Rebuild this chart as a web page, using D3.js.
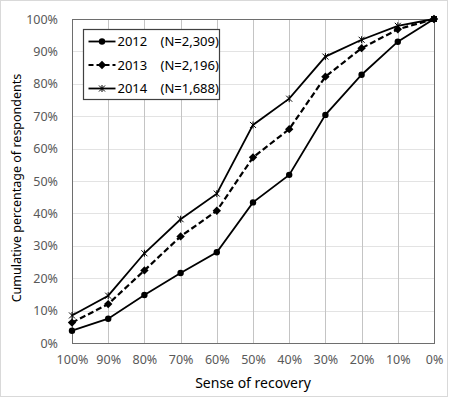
<!DOCTYPE html>
<html>
<head>
<meta charset="utf-8">
<script src="https://cdn.jsdelivr.net/npm/d3@7"></script>
<style>
  body { margin: 0; background: #fff; }
  text { font-family: "Noto Sans", "DejaVu Sans", sans-serif; }
</style>
</head>
<body>
<script>
// Data
const categories = ["100%", "90%", "80%", "70%", "60%", "50%", "40%", "30%", "20%", "10%", "0%"];
const years = ["2012", "2013", "2014"];
const sampleSizes = ["(N=2,309)", "(N=2,196)", "(N=1,688)"];
const values2012 = [3.8, 7.5, 14.8, 21.6, 28.0, 43.4, 51.9, 70.4, 82.8, 93.0, 100];
const values2013 = [6.3, 12.0, 22.4, 32.9, 40.8, 57.3, 66.0, 82.2, 91.0, 96.8, 100];
const values2014 = [8.5, 14.6, 27.7, 38.2, 46.1, 67.3, 75.4, 88.4, 93.6, 97.9, 100];
const yTicks = [0, 10, 20, 30, 40, 50, 60, 70, 80, 90, 100];

const series = [
  { name: years[0], n: sampleSizes[0], values: values2012, dash: null, marker: "circle" },
  { name: years[1], n: sampleSizes[1], values: values2013, dash: "6,3", marker: "diamond" },
  { name: years[2], n: sampleSizes[2], values: values2014, dash: null, marker: "x" }
];

// Dimensions
const W = 450, H = 397;
const margin = { top: 19, right: 16, bottom: 54, left: 72 };
const width = 434 - margin.left;
const height = 343 - margin.top;

const svg = d3.select("body").append("svg")
    .attr("width", W)
    .attr("height", H);

// outer frame
svg.append("rect")
    .attr("x", 0.5).attr("y", 0.5)
    .attr("width", W - 3).attr("height", H - 1)
    .attr("fill", "#fff")
    .attr("stroke", "#d9d9d9");

const g = svg.append("g")
    .attr("transform", `translate(${margin.left},${margin.top})`);

const x = d3.scalePoint().domain(categories).range([0, width]);
const y = d3.scaleLinear().domain([0, 100]).range([height, 0]);

// horizontal grid
g.append("g")
  .selectAll("line")
  .data(yTicks)
  .join("line")
    .attr("x1", 0).attr("x2", width)
    .attr("y1", d => Math.round(y(d)) + 0.5)
    .attr("y2", d => Math.round(y(d)) + 0.5)
    .attr("stroke", "#e3e3e3");

// vertical grid
g.append("g")
  .selectAll("line")
  .data(categories)
  .join("line")
    .attr("x1", d => Math.round(x(d)) + 0.5)
    .attr("x2", d => Math.round(x(d)) + 0.5)
    .attr("y1", 0).attr("y2", height)
    .attr("stroke", "#c4c4c4");

// plot border
g.append("rect")
    .attr("x", 0.5).attr("y", 0.5)
    .attr("width", width).attr("height", height)
    .attr("fill", "none")
    .attr("stroke", "#6e6e6e");

// axes
const yAxis = g.append("g")
    .call(d3.axisLeft(y).tickValues(yTicks).tickFormat(d => d + "%").tickSize(0).tickPadding(14));
yAxis.select(".domain").remove();
yAxis.selectAll("text").attr("font-size", 12.5).attr("fill", "#595959")
    .style("font-family", "'Noto Sans', sans-serif");

const xAxis = g.append("g")
    .attr("transform", `translate(0,${height})`)
    .call(d3.axisBottom(x).tickSize(0).tickPadding(12));
xAxis.select(".domain").remove();
xAxis.selectAll("text").attr("font-size", 12.5).attr("fill", "#595959")
    .style("font-family", "'Noto Sans', sans-serif");

// axis titles
svg.append("text")
    .attr("x", 253).attr("y", 388)
    .attr("text-anchor", "middle")
    .attr("font-size", 14)
    .attr("fill", "#000")
    .text("Sense of recovery");

svg.append("text")
    .attr("transform", "translate(21,188) rotate(-90)")
    .attr("text-anchor", "middle")
    .attr("font-size", 12.5)
    .attr("fill", "#000")
    .text("Cumulative percentage of respondents");

// markers
function drawMarker(sel, type) {
  if (type === "circle") {
    sel.append("circle").attr("r", 3.2).attr("fill", "#000");
  } else if (type === "diamond") {
    sel.append("path").attr("d", "M0,-4.2L4.2,0L0,4.2L-4.2,0Z").attr("fill", "#000");
  } else {
    sel.append("path").attr("d", "M-3,-3L3,3M-3,3L3,-3M0,-3.5L0,3.5")
      .attr("stroke", "#000").attr("stroke-width", 1).attr("fill", "none");
  }
}

const line = d3.line()
    .x((d, i) => x(categories[i]))
    .y(d => y(d));

series.forEach(s => {
  g.append("path")
    .datum(s.values)
    .attr("fill", "none")
    .attr("stroke", "#000")
    .attr("stroke-width", s.dash ? 2.2 : 1.8)
    .attr("stroke-dasharray", s.dash)
    .attr("d", line);

  g.append("g")
    .selectAll("g")
    .data(s.values)
    .join("g")
      .attr("transform", (d, i) => `translate(${x(categories[i])},${y(d)})`)
      .each(function() { drawMarker(d3.select(this), s.marker); });
});

// legend
const legend = svg.append("g").attr("transform", "translate(83.5,29.5)");
legend.append("rect")
    .attr("width", 136).attr("height", 70)
    .attr("fill", "#fff")
    .attr("stroke", "#404040")
    .attr("stroke-width", 1.2);

series.forEach((s, i) => {
  const row = legend.append("g").attr("transform", `translate(0,${12 + i * 23.5})`);
  row.append("line")
    .attr("x1", 5).attr("x2", 32)
    .attr("stroke", "#000")
    .attr("stroke-width", s.dash ? 2.2 : 1.8)
    .attr("stroke-dasharray", s.dash ? "5,3" : null);
  const m = row.append("g").attr("transform", "translate(18.5,0)");
  drawMarker(m, s.marker);
  row.append("text")
    .attr("x", 34).attr("y", 4.5)
    .attr("font-size", 13)
    .attr("fill", "#000")
    .text(s.name);
  row.append("text")
    .attr("x", 77).attr("y", 4.5)
    .attr("font-size", 13)
    .attr("fill", "#000")
    .text(s.n);
});
</script>
</body>
</html>
